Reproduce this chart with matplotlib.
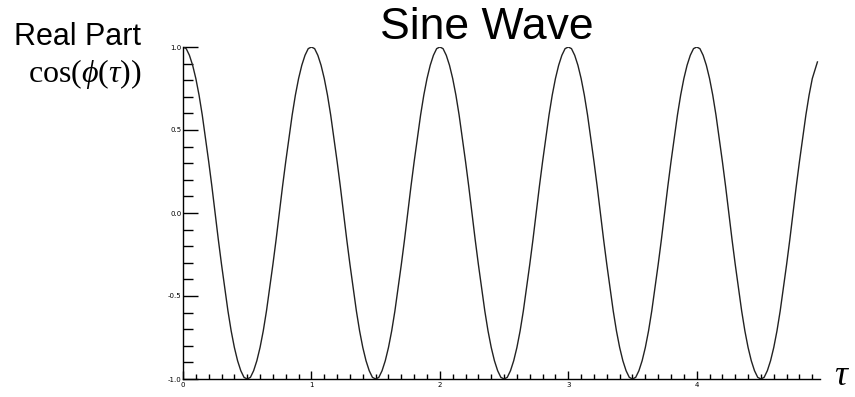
import matplotlib
matplotlib.use('Agg')
import matplotlib.pyplot as plt
from matplotlib.ticker import MultipleLocator

# readings of one period, tau step 0.025 (0.000 .. 0.975)
period_vals = [1.00, 0.99, 0.95, 0.89, 0.81, 0.71, 0.59, 0.45, 0.31, 0.16,
               0.00, -0.16, -0.31, -0.45, -0.59, -0.71, -0.81, -0.89, -0.95, -0.99,
               -1.00, -0.99, -0.95, -0.89, -0.81, -0.71, -0.59, -0.45, -0.31, -0.16,
               0.00, 0.16, 0.31, 0.45, 0.59, 0.71, 0.81, 0.89, 0.95, 0.99]
n_periods = 5
tau_step = 0.025
tail_tau = [4.94]
tail_val = [0.91]

x_ticks = [0, 1, 2, 3, 4]
x_ticklabels = ['0', '1', '2', '3', '4']
y_ticks = [-1.0, -0.5, 0.0, 0.5, 1.0]
y_ticklabels = ['-1.0', '-0.5', '0.0', '0.5', '1.0']

vals = period_vals * n_periods
vals = vals[:-3]  # last reading taken separately
tau = [i * tau_step for i in range(len(vals))] + tail_tau
vals = vals + tail_val

plt.rcParams['mathtext.fontset'] = 'custom'
plt.rcParams['mathtext.rm'] = 'Liberation Serif'
plt.rcParams['mathtext.it'] = 'Liberation Serif:italic'

fig = plt.figure(figsize=(8.55, 3.97), dpi=100)
ax = fig.add_axes([183 / 855, 1 - 379 / 397, (820 - 183) / 855, (379 - 47) / 397])

ax.plot(tau, vals, color='#222222', lw=1.0)

ax.set_xlim(0, 4.96)
ax.set_ylim(-1.0, 1.0)
for s in ('top', 'right'):
    ax.spines[s].set_visible(False)
for s in ('left', 'bottom'):
    ax.spines[s].set_linewidth(1.0)

ax.set_xticks(x_ticks)
ax.set_xticklabels(x_ticklabels)
ax.set_yticks(y_ticks)
ax.set_yticklabels(y_ticklabels)
ax.xaxis.set_minor_locator(MultipleLocator(0.1))
ax.yaxis.set_minor_locator(MultipleLocator(0.1))
ax.tick_params(axis='x', which='major', direction='in', length=5.5, width=1, labelsize=5, pad=2)
ax.tick_params(axis='x', which='minor', direction='in', length=3.5, width=1)
ax.tick_params(axis='y', which='major', direction='in', length=11, width=1, labelsize=5, pad=1)
ax.tick_params(axis='y', which='minor', direction='in', length=7, width=1)

fig.text(487 / 855, 1 - 39 / 397, 'Sine Wave', family='Liberation Sans', fontsize=32,
         ha='center', va='baseline')
fig.text(77 / 855, 1 - 45 / 397, 'Real Part', family='Liberation Sans', fontsize=22,
         ha='center', va='baseline')
fig.text(85 / 855, 1 - 74 / 397, r'$\cos(\phi(\tau))$', fontsize=23,
         ha='center', va='center')
fig.text(842 / 855, 1 - 375 / 397, r'$\tau$', fontsize=26, ha='center', va='center')

fig.savefig('out.png', dpi=100)
